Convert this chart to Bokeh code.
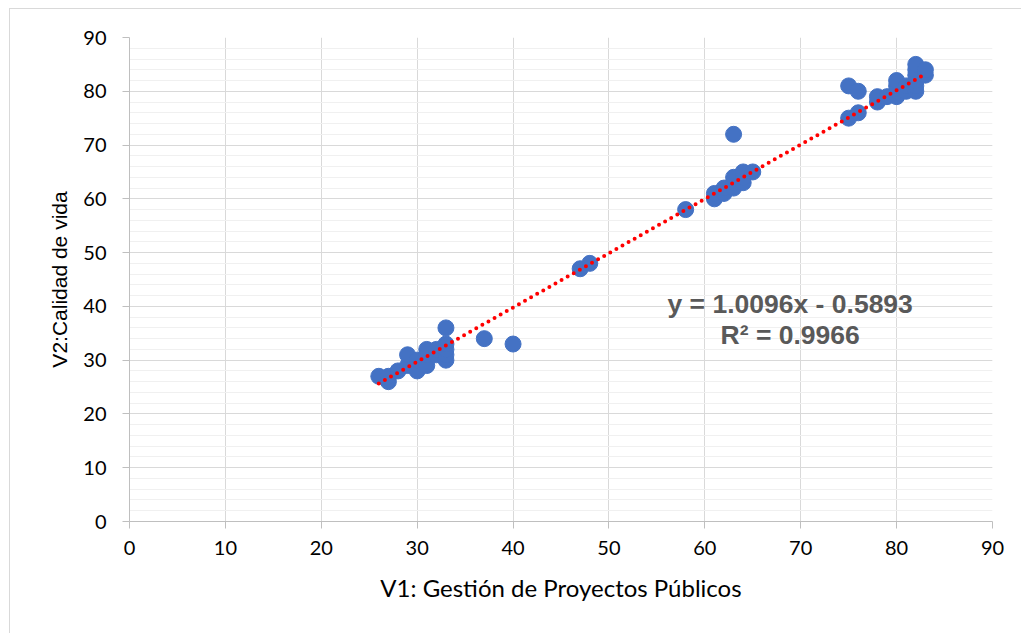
from bokeh.plotting import figure
from bokeh.models import Range1d, FixedTicker, Label
from bokeh.embed import file_html
from bokeh.resources import INLINE

# Data
v1 = [26, 27, 27, 28, 29, 29, 30, 30, 31, 31, 31, 32, 32, 33, 33, 33, 33, 33, 37, 40,
      47, 48, 58,
      61, 61, 62, 62, 63, 63, 63, 64, 64, 64, 65, 63,
      75, 75, 76, 76, 78, 78, 79, 80, 80, 80, 80, 81, 81, 82, 82, 82, 82, 82, 82, 83, 83]
v2 = [27, 26, 27, 28, 29, 31, 28, 30, 29, 31, 32, 31, 32, 30, 31, 32, 33, 36, 34, 33,
      47, 48, 58,
      60, 61, 61, 62, 62, 63, 64, 63, 64, 65, 65, 72,
      75, 81, 76, 80, 78, 79, 79, 79, 80, 81, 82, 80, 81, 80, 81, 82, 83, 84, 85, 83, 84]
slope = 1.0096
intercept = -0.5893
r2 = 0.9966
x_ticks = list(range(0, 91, 10))
y_ticks = list(range(0, 91, 10))
y_minor = list(range(0, 91, 2))

FONT = "Lato"

p = figure(width=1012, height=625, output_backend="svg", toolbar_location=None,
           x_range=Range1d(0, 90), y_range=Range1d(0, 90),
           min_border_left=119, min_border_right=30, min_border_top=28, min_border_bottom=113)
p.styles = {"margin-left": "9px", "margin-top": "8px",
            "border-left": "1px solid #d9d9d9", "border-top": "1px solid #d9d9d9"}
p.outline_line_color = None
p.background_fill_color = "white"
p.border_fill_color = "white"

p.xaxis.ticker = FixedTicker(ticks=x_ticks)
p.yaxis.ticker = FixedTicker(ticks=y_ticks, minor_ticks=y_minor)

for ax in (p.xaxis[0], p.yaxis[0]):
    ax.axis_line_color = "#bfbfbf"
    ax.major_tick_line_color = "#bfbfbf"
    ax.major_tick_out = 7
    ax.major_tick_in = 0
    ax.minor_tick_line_color = None
    ax.major_label_text_font = FONT
    ax.major_label_text_font_size = "20px"
    ax.major_label_text_color = "#000000"
    ax.axis_label_text_font_style = "normal"
    ax.axis_label_text_color = "#000000"

p.xaxis.axis_label = "V1: Gestión de Proyectos Públicos"
p.xaxis.axis_label_text_font = FONT
p.xaxis.axis_label_text_font_size = "24px"
p.yaxis.axis_label = "V2:Calidad de vida"
p.yaxis.axis_label_text_font = "Liberation Sans"
p.yaxis.axis_label_text_font_size = "21px"
p.xaxis.major_label_standoff = 12
p.yaxis.major_label_standoff = 16
p.xaxis.axis_label_standoff = 15
p.yaxis.axis_label_standoff = 9

p.xgrid.grid_line_color = "#d9d9d9"
p.xgrid.minor_grid_line_color = None
p.ygrid.grid_line_color = "#d9d9d9"
p.ygrid.minor_grid_line_color = "#f0f0f0"

p.scatter(v1, v2, size=16, color="#4472C4", line_color="#4472C4")

xs = [min(v1), max(v1)]
ys = [slope * x + intercept for x in xs]
p.line(xs, ys, line_color="#ff0000", line_width=4, line_dash="0 7", line_cap="round")

eq = f"y = {slope:.4f}x - {abs(intercept):.4f}"
rr = f"R² = {r2:.4f}"
for y, t in ((40.4, eq), (34.6, rr)):
    p.add_layout(Label(x=68.9, y=y, text=t, text_align="center", text_baseline="middle",
                       text_font="Liberation Sans", text_font_size="26.5px",
                       text_font_style="bold", text_color="#595959"))

open("out.html", "w").write(file_html(p, INLINE))
